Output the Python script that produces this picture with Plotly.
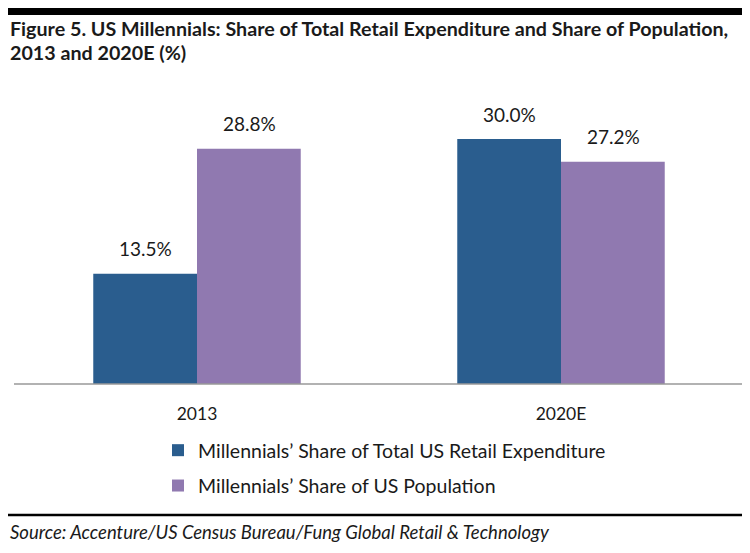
import plotly.graph_objects as go

categories = ["2013", "2020E"]
series_names = ["Millennials’ Share of Total US Retail Expenditure",
                "Millennials’ Share of US Population"]
expenditure = [13.5, 30.0]
population = [28.8, 27.2]
colors = ["#2A5D8E", "#9079B0"]

title_lines = ["Figure 5. US Millennials: Share of Total Retail Expenditure and Share of Population,",
               "2013 and 2020E (%)"]
source_text = "Source: Accenture/US Census Bureau/Fung Global Retail &amp; Technology"

FONT = "Lato"
# page is 750x553; the browser's default body margin (8px) offsets the figure
OFF = 8
W, H = 750 - OFF, 553 - OFF


def px(x):
    return max(0.0, (x - OFF) / W)


def py(y):
    return min(1.0, 1 - (y - OFF) / H)


fig = go.Figure()
for name, vals, col in zip(series_names, [expenditure, population], colors):
    fig.add_trace(go.Bar(x=categories, y=vals, name=name, marker=dict(color=col, line=dict(width=0)),
                         legendgroup=name, hoverinfo="skip"))

# data labels (x given as category index so numeric-looking names are not misread)
for i, vals in enumerate([expenditure, population]):
    for ci, v in enumerate(vals):
        fig.add_annotation(x=ci, y=v, xref="x", yref="y", text=f"{v:.1f}%", showarrow=False,
                           xshift=(-52 if i == 0 else 52), yshift=25, yanchor="middle",
                           font=dict(family=FONT, size=19, color="#1a1a1a"))

# title
fig.add_annotation(x=px(7), y=py(28), xref="paper", yref="paper", text="<b>" + title_lines[0] + "</b>",
                   showarrow=False, xanchor="left", yanchor="middle",
                   font=dict(family=FONT, size=19.7, color="#1a1a1a"))
fig.add_annotation(x=px(7), y=py(52), xref="paper", yref="paper", text="<b>" + title_lines[1] + "</b>",
                   showarrow=False, xanchor="left", yanchor="middle",
                   font=dict(family=FONT, size=19.7, color="#1a1a1a"))
# source
fig.add_annotation(x=px(7), y=py(532), xref="paper", yref="paper", text="<i>" + source_text + "</i>",
                   showarrow=False, xanchor="left", yanchor="middle",
                   font=dict(family=FONT, size=18.5, color="#1a1a1a"))

# rules
fig.add_shape(type="rect", xref="paper", yref="paper", x0=px(3), x1=1, y0=py(15), y1=py(0),
              line=dict(width=0), fillcolor="black", layer="above")
fig.add_shape(type="line", xref="paper", yref="paper", x0=px(3), x1=1, y0=py(515), y1=py(515),
              line=dict(color="black", width=2.5))
# axis line
fig.add_shape(type="line", xref="paper", yref="paper", x0=px(14), x1=px(744), y0=py(384), y1=py(384),
              line=dict(color="#999999", width=1.5))

fig.update_layout(
    width=W, height=H,
    margin=dict(l=0, r=0, t=0, b=0),
    paper_bgcolor="white", plot_bgcolor="white",
    barmode="group", bargap=0.43, bargroupgap=0,
    showlegend=True,
    legend=dict(x=px(158), y=py(431), xanchor="left", yanchor="top", xref="paper", yref="paper",
                font=dict(family=FONT, size=19.5, color="#1a1a1a"), traceorder="grouped",
                tracegroupgap=7, bgcolor="rgba(0,0,0,0)"),
    xaxis=dict(type="category", domain=[px(15), px(743)], range=[-0.5, 1.5], showline=False, ticks="",
               showgrid=False, tickfont=dict(family=FONT, size=17.5, color="#1a1a1a"),
               ticklabelstandoff=17),
    yaxis=dict(domain=[py(384), py(90)], range=[0, 36], showgrid=False, showticklabels=False,
               zeroline=False, showline=False),
    font=dict(family=FONT),
)

fig.write_html("out.html", config={"displayModeBar": False})
